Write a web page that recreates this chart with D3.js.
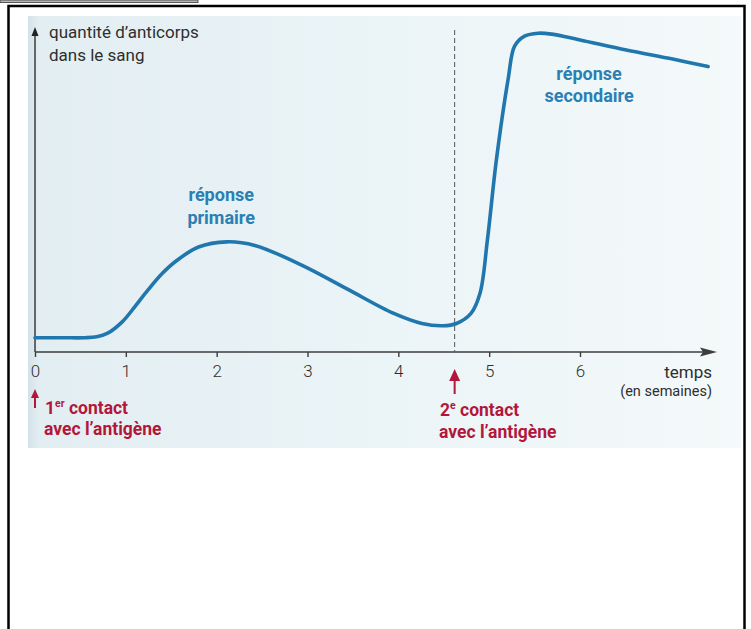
<!DOCTYPE html>
<html>
<head>
<meta charset="utf-8">
<script src="https://cdn.jsdelivr.net/npm/d3@7"></script>
<style>
  html, body { margin: 0; padding: 0; background: #ffffff; }
  svg { display: block; }
  text { font-family: "Roboto", "Liberation Sans", sans-serif; }
</style>
</head>
<body>
<svg id="chart" width="751" height="629"></svg>
<script>
// ---- data ----
const weeks    = [0, 0.3, 0.55, 0.68, 0.8, 0.96, 1.1, 1.24, 1.4, 1.55, 1.80, 2.11, 2.42, 2.93, 3.44, 3.95, 4.26, 4.49, 4.64, 4.80, 4.90, 4.98, 5.08, 5.21, 5.28, 5.39, 5.54, 5.69, 6.0, 6.51, 7.02, 7.41];
const antibody = [4.4, 4.4, 4.4, 4.7, 5.8, 9.3, 14.0, 19.0, 24.2, 28.0, 32.4, 34.0, 32.9, 26.9, 19.4, 11.9, 8.8, 8.1, 8.8, 11.9, 18.2, 34.4, 59.4, 84.4, 94.4, 97.5, 98.4, 98.1, 96.3, 93.2, 90.4, 88.1];
const tickValues = [0, 1, 2, 3, 4, 5, 6];
const secondContactWeek = 4.62;
const yAxisLabel = ["quantité d’anticorps", "dans le sang"];
const xAxisLabel = ["temps", "(en semaines)"];
const responseLabels = [
  { lines: ["réponse", "primaire"], week: 2.05, level: 46.5 },
  { lines: ["réponse", "secondaire"], week: 6.1, level: 84 }
];

const svg = d3.select("#chart");

// decorative frame elements
svg.append("rect").attr("x", 0).attr("y", 0).attr("width", 198).attr("height", 2.6)
  .attr("fill", "#b5b5b5").attr("stroke", "#3a3a3a").attr("stroke-width", 0.8);
svg.append("rect").attr("x", 8.5).attr("y", 6).attr("width", 736).attr("height", 700)
  .attr("fill", "none").attr("stroke", "#000").attr("stroke-width", 2.5);

// background (scanned page tint)
const defs = svg.append("defs");
const grad = defs.append("linearGradient").attr("id", "bg").attr("x1", 0).attr("x2", 1).attr("y1", 0).attr("y2", 0);
grad.append("stop").attr("offset", "0").attr("stop-color", "#d3e2e8");
grad.append("stop").attr("offset", "0.015").attr("stop-color", "#e3eef2");
grad.append("stop").attr("offset", "0.5").attr("stop-color", "#ebf4f7");
grad.append("stop").attr("offset", "1").attr("stop-color", "#f4f9fa");
svg.append("rect").attr("x", 28).attr("y", 16).attr("width", 713).attr("height", 432).attr("fill", "url(#bg)");

// scales
const x = d3.scaleLinear().domain([0, 6]).range([35, 580]);
const y = d3.scaleLinear().domain([0, 100]).range([352, 28]);

const axisColor = "#3d3d3d";
const textColor = "#2e2e2e";

// x axis
const xAxis = d3.axisBottom(x).tickValues(tickValues).tickSize(5).tickFormat(d3.format("d"));
const gx = svg.append("g").attr("transform", `translate(0,${y(0)})`).call(xAxis);
gx.select(".domain").remove();
gx.selectAll(".tick line").attr("stroke", axisColor).attr("stroke-width", 1.4);
gx.selectAll(".tick text").attr("y", 13).attr("fill", textColor)
  .style("font-size", "17px").style("font-family", "Roboto, sans-serif").style("font-weight", "300");

svg.append("line").attr("x1", x(0)).attr("x2", 706).attr("y1", y(0)).attr("y2", y(0))
  .attr("stroke", axisColor).attr("stroke-width", 1.5);
svg.append("path").attr("d", `M717,${y(0)} L700,${y(0) - 4.5} L703,${y(0)} L700,${y(0) + 4.5} Z`)
  .attr("fill", axisColor);

// y axis
svg.append("line").attr("x1", x(0)).attr("x2", x(0)).attr("y1", y(0)).attr("y2", 36)
  .attr("stroke", axisColor).attr("stroke-width", 1.5);
svg.append("path").attr("d", `M${x(0)},27 L${x(0) - 3.5},36 L${x(0) + 3.5},36 Z`).attr("fill", "#222");

svg.append("text").attr("x", 49).attr("y", 38).attr("fill", textColor).style("font-size", "17px").text(yAxisLabel[0]);
svg.append("text").attr("x", 49).attr("y", 61).attr("fill", textColor).style("font-size", "17px").text(yAxisLabel[1]);

svg.append("text").attr("x", 712).attr("y", 378).attr("text-anchor", "end").attr("fill", textColor)
  .style("font-size", "17px").text(xAxisLabel[0]);
svg.append("text").attr("x", 712).attr("y", 396).attr("text-anchor", "end").attr("fill", textColor)
  .style("font-size", "14.5px").text(xAxisLabel[1]);

// dashed second-contact line
svg.append("line").attr("x1", x(secondContactWeek)).attr("x2", x(secondContactWeek))
  .attr("y1", 30).attr("y2", y(0))
  .attr("stroke", "#555").attr("stroke-width", 1).attr("stroke-dasharray", "5,3");

// curve
const pts = weeks.map((w, i) => [w, antibody[i]]);
const line = d3.line().x(d => x(d[0])).y(d => y(d[1])).curve(d3.curveCatmullRom.alpha(0.5));
svg.append("path").attr("d", line(pts)).attr("fill", "none")
  .attr("stroke", "#1f77ad").attr("stroke-width", 3.6).attr("stroke-linecap", "round");

// response labels
const blue = "#2a7fb3";
responseLabels.forEach(r => {
  r.lines.forEach((t, i) => {
    svg.append("text").attr("x", x(r.week)).attr("y", y(r.level) + i * 22.5)
      .attr("text-anchor", "middle").attr("fill", blue)
      .style("font-size", "18px").style("font-weight", "bold").text(t);
  });
});

// contact annotations
const red = "#b2173b";
function upArrow(xc, yTop, yBot, headW, headH) {
  svg.append("line").attr("x1", xc).attr("x2", xc).attr("y1", yTop + headH - 1).attr("y2", yBot)
    .attr("stroke", red).attr("stroke-width", 2);
  svg.append("path").attr("d", `M${xc},${yTop} L${xc - headW},${yTop + headH} L${xc + headW},${yTop + headH} Z`)
    .attr("fill", red);
}
upArrow(x(0), 389, 408, 4, 9);
upArrow(x(secondContactWeek), 369, 394, 5.5, 12);

function contactLabel(x0, y0, num, sup, y1) {
  const t = svg.append("text").attr("x", x0).attr("y", y0).attr("fill", red)
    .style("font-size", "17.5px").style("font-weight", "bold");
  t.append("tspan").text(num);
  t.append("tspan").attr("dy", -7).style("font-size", "10.5px").text(sup);
  t.append("tspan").attr("dy", 7).text(" contact");
  svg.append("text").attr("x", x0 - 1).attr("y", y1).attr("fill", red)
    .style("font-size", "17.5px").style("font-weight", "bold").text("avec l’antigène");
}
contactLabel(45, 414, "1", "er", 435);
contactLabel(440, 416, "2", "e", 438);
</script>
</body>
</html>
